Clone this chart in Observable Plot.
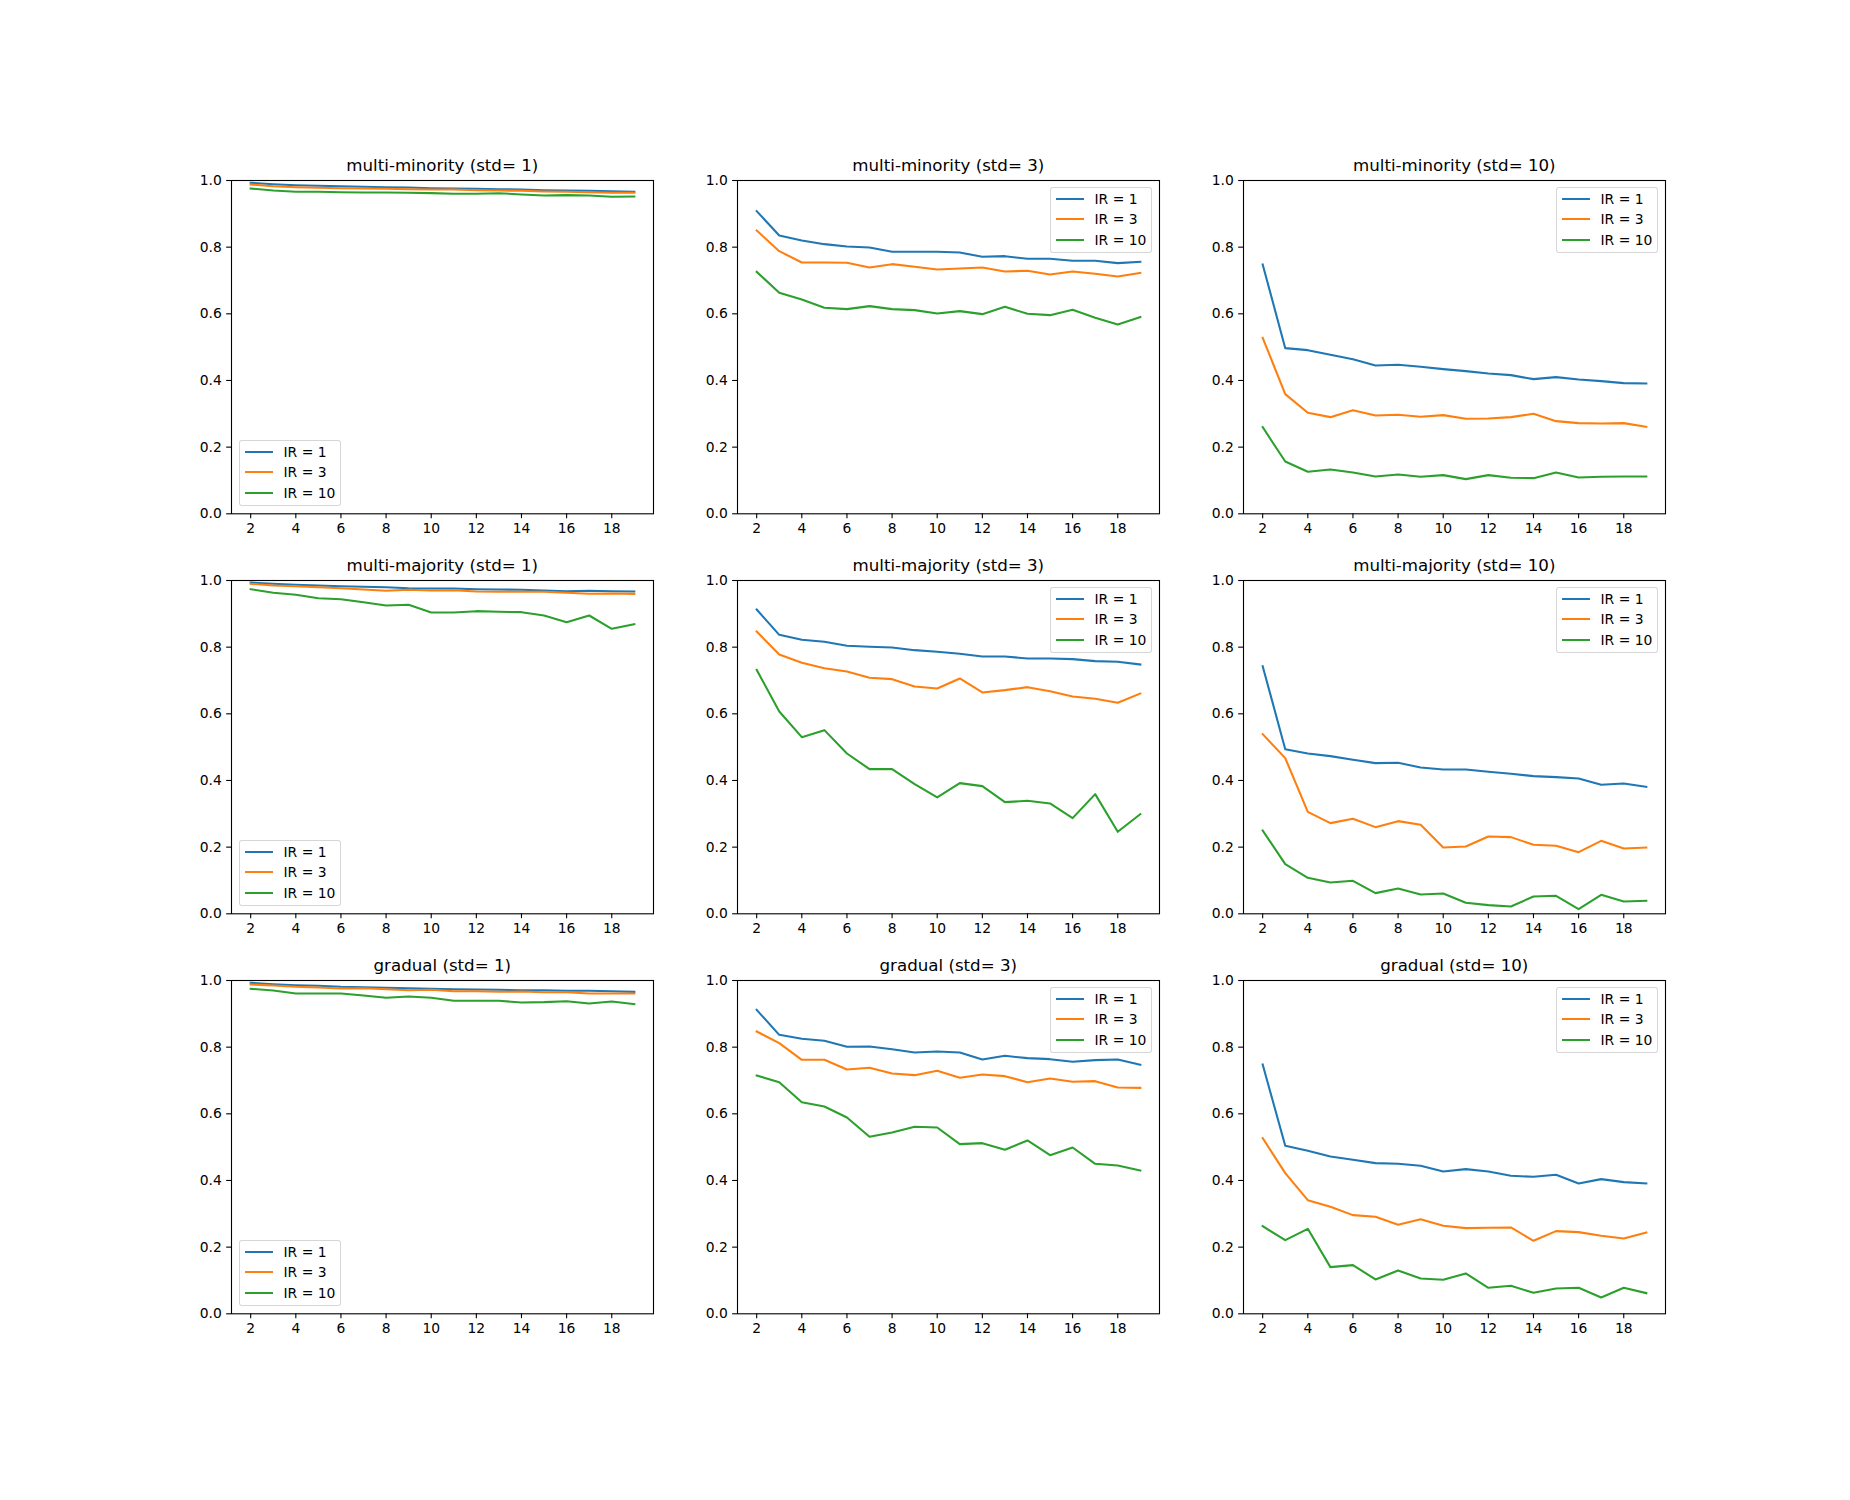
<!DOCTYPE html>
<html>
<head>
<meta charset="utf-8">
<script src="https://cdn.jsdelivr.net/npm/d3@7"></script>
<script src="https://cdn.jsdelivr.net/npm/@observablehq/plot@0.6"></script>
<style>
html, body { margin: 0; padding: 0; background: #fff; }
#fig { position: relative; width: 1850px; height: 1500px; background: #fff; overflow: hidden;
       font-family: "DejaVu Sans", sans-serif; color: #000; }
.panel { position: absolute; }
.title { position: absolute; text-align: center; font-size: 16.67px; line-height: 16.67px; white-space: nowrap; }
.legend { position: absolute; box-sizing: border-box; width: 102px; height: 66px;
          border: 1px solid rgba(204,204,204,0.8); border-radius: 3px; background: rgba(255,255,255,0.8); }
.lg-handle { position: absolute; left: 5px; width: 28px; height: 2px; }
.lg-text { position: absolute; left: 43.5px; height: 16px; line-height: 16px; font-size: 13.9px; white-space: nowrap; }
</style>
</head>
<body>
<div id="fig"></div>
<script>
// ---------- data ----------
const xValues = [2,3,4,5,6,7,8,9,10,11,12,13,14,15,16,17,18,19];
const seriesLabels = ["IR = 1", "IR = 3", "IR = 10"];
const seriesColors = ["#1f77b4", "#ff7f0e", "#2ca02c"];
const xTicks = [2,4,6,8,10,12,14,16,18];
const yTicks = [0, 0.2, 0.4, 0.6, 0.8, 1.0];
const panelTitles = [
  "multi-minority (std= 1)", "multi-minority (std= 3)", "multi-minority (std= 10)",
  "multi-majority (std= 1)", "multi-majority (std= 3)", "multi-majority (std= 10)",
  "gradual (std= 1)", "gradual (std= 3)", "gradual (std= 10)"
];

// multi-minority
const minority1_ir1  = [0.993,0.989,0.986,0.984,0.983,0.981,0.980,0.979,0.977,0.976,0.975,0.974,0.973,0.971,0.970,0.969,0.968,0.966];
const minority1_ir3  = [0.988,0.983,0.980,0.978,0.977,0.976,0.975,0.974,0.973,0.973,0.971,0.970,0.969,0.967,0.966,0.965,0.963,0.963];
const minority1_ir10 = [0.976,0.970,0.966,0.966,0.965,0.964,0.964,0.963,0.962,0.960,0.960,0.962,0.958,0.955,0.956,0.955,0.951,0.952];
const minority3_ir1  = [0.908,0.835,0.820,0.809,0.802,0.799,0.786,0.786,0.786,0.784,0.771,0.773,0.765,0.765,0.759,0.759,0.752,0.756];
const minority3_ir3  = [0.850,0.788,0.754,0.754,0.753,0.739,0.749,0.741,0.733,0.736,0.739,0.727,0.729,0.718,0.727,0.720,0.712,0.723];
const minority3_ir10 = [0.726,0.663,0.643,0.618,0.614,0.623,0.614,0.611,0.601,0.608,0.599,0.621,0.600,0.596,0.612,0.588,0.568,0.590];
const minority10_ir1  = [0.748,0.497,0.491,0.477,0.464,0.445,0.447,0.441,0.434,0.428,0.421,0.416,0.404,0.410,0.403,0.398,0.392,0.391];
const minority10_ir3  = [0.528,0.359,0.303,0.290,0.311,0.295,0.297,0.291,0.296,0.285,0.286,0.290,0.300,0.278,0.272,0.271,0.272,0.261];
const minority10_ir10 = [0.260,0.157,0.126,0.133,0.124,0.112,0.118,0.111,0.116,0.104,0.116,0.108,0.107,0.124,0.109,0.111,0.112,0.112];

// multi-majority
const majority1_ir1  = [0.994,0.990,0.987,0.985,0.983,0.981,0.980,0.977,0.976,0.976,0.974,0.973,0.972,0.970,0.968,0.969,0.968,0.967];
const majority1_ir3  = [0.990,0.985,0.983,0.980,0.977,0.973,0.969,0.972,0.970,0.971,0.967,0.966,0.966,0.966,0.963,0.960,0.961,0.960];
const majority1_ir10 = [0.974,0.963,0.957,0.947,0.944,0.935,0.925,0.927,0.904,0.904,0.908,0.906,0.905,0.895,0.875,0.895,0.855,0.869];
const majority3_ir1  = [0.913,0.837,0.822,0.816,0.804,0.801,0.799,0.791,0.786,0.780,0.772,0.772,0.766,0.766,0.764,0.758,0.756,0.748];
const majority3_ir3  = [0.847,0.778,0.753,0.737,0.727,0.708,0.704,0.682,0.676,0.706,0.664,0.671,0.680,0.668,0.652,0.645,0.633,0.661];
const majority3_ir10 = [0.732,0.607,0.530,0.551,0.481,0.434,0.434,0.389,0.349,0.392,0.383,0.335,0.339,0.331,0.287,0.359,0.246,0.299];
const majority10_ir1  = [0.743,0.494,0.481,0.473,0.462,0.452,0.453,0.439,0.433,0.433,0.426,0.420,0.413,0.410,0.406,0.387,0.391,0.381];
const majority10_ir3  = [0.539,0.467,0.306,0.272,0.285,0.260,0.278,0.267,0.199,0.202,0.232,0.230,0.207,0.204,0.185,0.219,0.196,0.199];
const majority10_ir10 = [0.250,0.149,0.108,0.094,0.099,0.062,0.076,0.058,0.061,0.033,0.026,0.022,0.052,0.054,0.014,0.057,0.037,0.039];

// gradual
const gradual1_ir1  = [0.993,0.989,0.986,0.984,0.981,0.980,0.978,0.977,0.975,0.974,0.973,0.972,0.971,0.971,0.969,0.969,0.968,0.966];
const gradual1_ir3  = [0.988,0.985,0.981,0.979,0.976,0.977,0.974,0.971,0.972,0.968,0.968,0.966,0.967,0.965,0.965,0.961,0.961,0.961];
const gradual1_ir10 = [0.975,0.970,0.961,0.961,0.961,0.955,0.948,0.952,0.948,0.939,0.939,0.939,0.934,0.935,0.938,0.931,0.937,0.929];
const gradual3_ir1  = [0.912,0.837,0.825,0.819,0.801,0.802,0.794,0.784,0.787,0.784,0.763,0.774,0.767,0.764,0.756,0.761,0.763,0.747];
const gradual3_ir3  = [0.847,0.812,0.762,0.762,0.733,0.738,0.721,0.716,0.729,0.708,0.718,0.713,0.695,0.706,0.696,0.698,0.679,0.678];
const gradual3_ir10 = [0.715,0.695,0.635,0.622,0.589,0.531,0.544,0.561,0.559,0.509,0.512,0.492,0.520,0.476,0.499,0.450,0.445,0.430];
const gradual10_ir1  = [0.748,0.504,0.489,0.472,0.462,0.452,0.450,0.444,0.427,0.434,0.427,0.414,0.411,0.417,0.391,0.404,0.395,0.391];
const gradual10_ir3  = [0.527,0.422,0.341,0.321,0.296,0.291,0.267,0.284,0.264,0.257,0.258,0.259,0.219,0.248,0.245,0.234,0.226,0.244];
const gradual10_ir10 = [0.263,0.221,0.255,0.140,0.146,0.103,0.130,0.106,0.102,0.121,0.078,0.084,0.063,0.076,0.078,0.049,0.078,0.062];

const panelSeries = [
  [minority1_ir1, minority1_ir3, minority1_ir10],
  [minority3_ir1, minority3_ir3, minority3_ir10],
  [minority10_ir1, minority10_ir3, minority10_ir10],
  [majority1_ir1, majority1_ir3, majority1_ir10],
  [majority3_ir1, majority3_ir3, majority3_ir10],
  [majority10_ir1, majority10_ir3, majority10_ir10],
  [gradual1_ir1, gradual1_ir3, gradual1_ir10],
  [gradual3_ir1, gradual3_ir3, gradual3_ir10],
  [gradual10_ir1, gradual10_ir3, gradual10_ir10]
];

// ---------- layout ----------
const colLeft = [231.3, 737.3, 1243.3];
const rowTop = [180.0, 580.0, 980.0];
const axW = 422, axH = 333.3;
const mL = 50, mR = 10, mT = 10, mB = 30;
const fig = document.getElementById("fig");

panelSeries.forEach((series, i) => {
  const r = Math.floor(i / 3), c = i % 3;
  const L = colLeft[c], T = rowTop[r];
  const data = [];
  series.forEach((vals, s) => vals.forEach((v, k) => data.push({x: xValues[k], y: v, series: seriesLabels[s]})));

  const chart = Plot.plot({
    width: axW + mL + mR,
    height: axH + mT + mB,
    marginLeft: mL, marginRight: mR, marginTop: mT, marginBottom: mB,
    style: {fontFamily: "DejaVu Sans, sans-serif", fontSize: "13.9px", color: "#000", background: "transparent", overflow: "visible"},
    x: {domain: [1.15, 19.85], label: null},
    y: {domain: [0, 1], label: null},
    color: {domain: seriesLabels, range: seriesColors},
    marks: [
      Plot.line(data, {x: "x", y: "y", z: "series", stroke: "series", strokeWidth: 2.08, strokeLinejoin: "round", strokeLinecap: "square", clip: true}),
      Plot.frame({stroke: "#000", strokeWidth: 1.1}),
      Plot.axisX({ticks: xTicks, tickSize: 4.86, tickPadding: 4.86, tickFormat: d => String(d), fontSize: 13.9, label: null, strokeWidth: 1.1}),
      Plot.axisY({ticks: yTicks, tickSize: 4.86, tickPadding: 4.86, tickFormat: d3.format(".1f"), fontSize: 13.9, label: null, strokeWidth: 1.1})
    ]
  });

  const wrap = document.createElement("div");
  wrap.className = "panel";
  wrap.style.left = (L - mL) + "px";
  wrap.style.top = (T - mT) + "px";
  wrap.appendChild(chart);
  fig.appendChild(wrap);

  const title = document.createElement("div");
  title.className = "title";
  title.style.left = L + "px";
  title.style.width = axW + "px";
  title.style.top = (T - 22.4) + "px";
  title.textContent = panelTitles[i];
  fig.appendChild(title);

  const lg = document.createElement("div");
  lg.className = "legend";
  let lgLeft, lgTop;
  if (c === 0) {
    lgLeft = Math.round(L + 7.2);
    lgTop = Math.round(T + axH - 7.4 - 66);
  } else {
    lgLeft = Math.round(L + axW - 7.2 - 102);
    lgTop = Math.round(T + 7.4);
  }
  lg.style.left = lgLeft + "px";
  lg.style.top = lgTop + "px";
  const centers = [11, 31, 52];
  seriesLabels.forEach((lab, s) => {
    const h = document.createElement("div");
    h.className = "lg-handle";
    h.style.top = (centers[s] - 1) + "px";
    h.style.background = seriesColors[s];
    lg.appendChild(h);
    const t = document.createElement("div");
    t.className = "lg-text";
    t.style.top = (centers[s] - 8) + "px";
    t.textContent = lab;
    lg.appendChild(t);
  });
  fig.appendChild(lg);
});
</script>
</body>
</html>
